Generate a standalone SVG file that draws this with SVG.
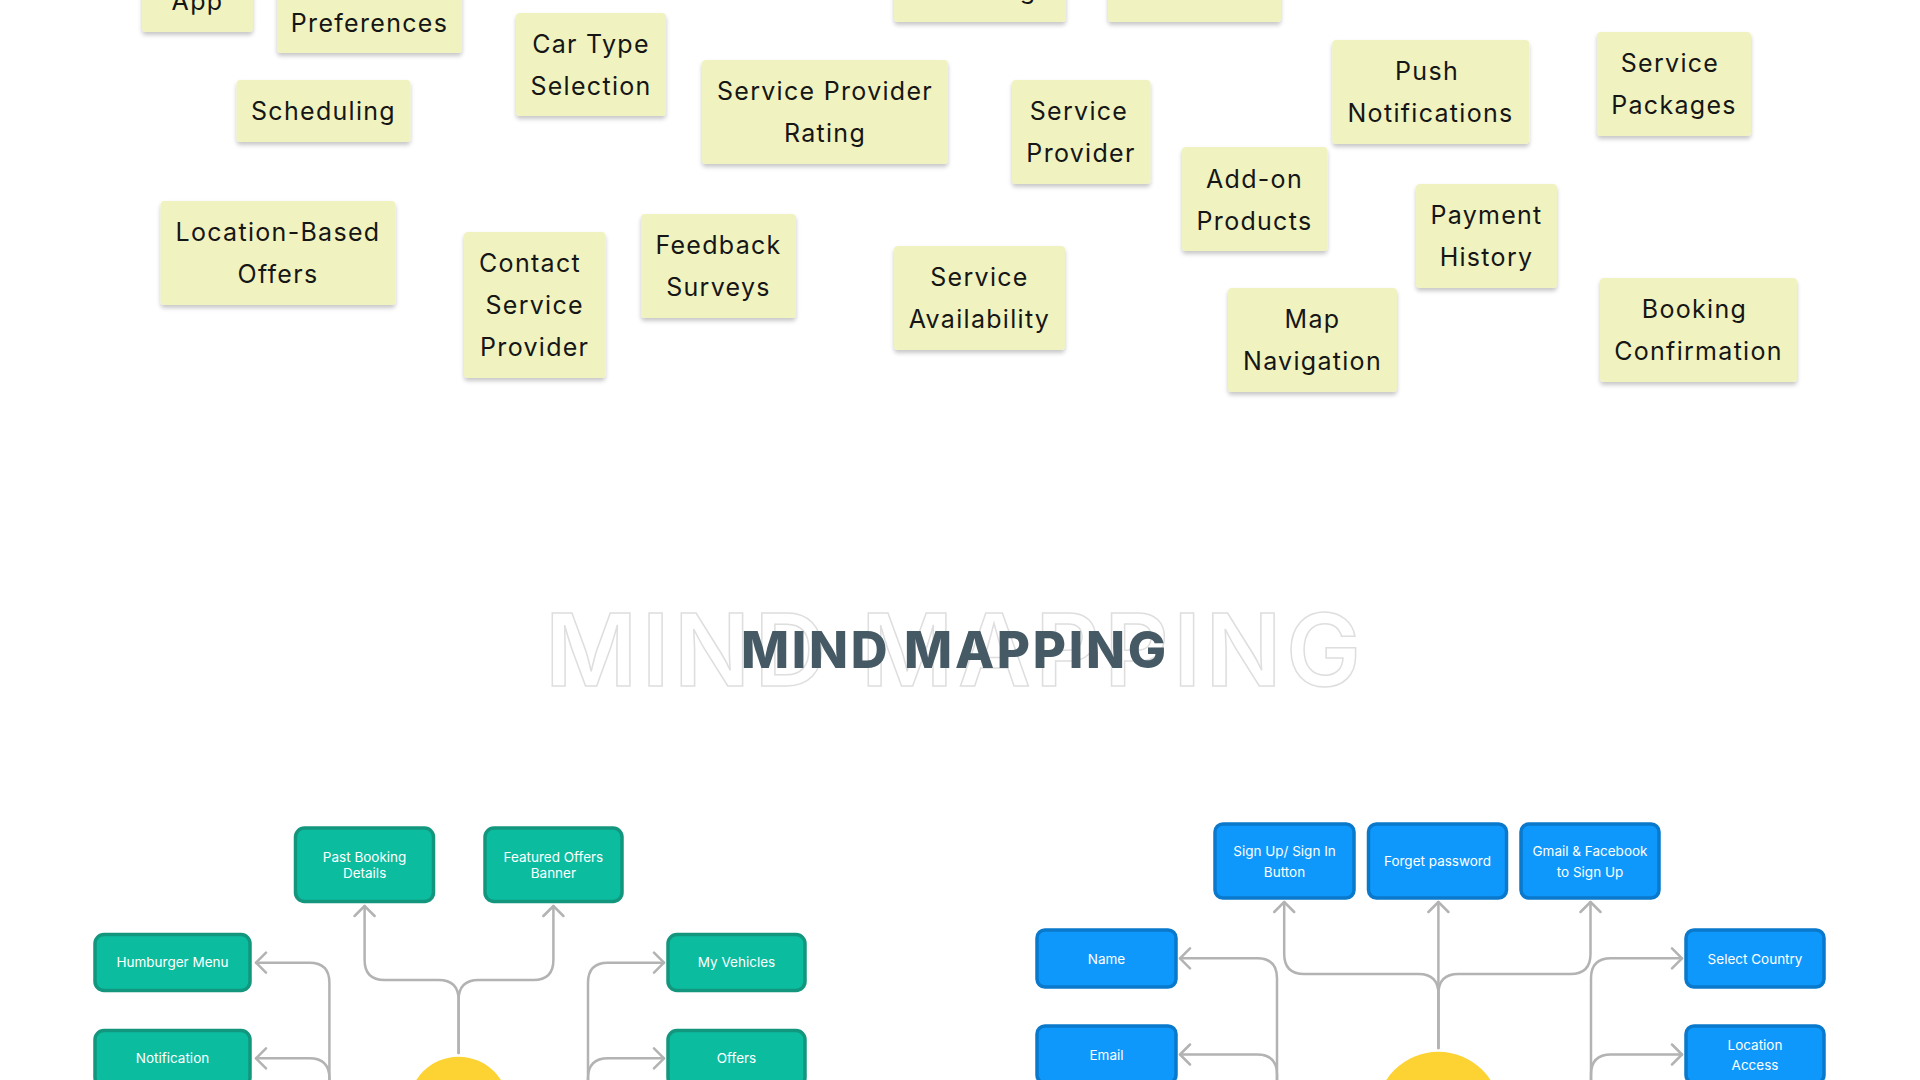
<svg xmlns="http://www.w3.org/2000/svg" width="1920" height="1080" viewBox="0 0 1920 1080">
  <style>
    .note rect { fill: #f0f3bf; filter: url(#noteShadow); }
    .note text { font-family: Inter, "Noto Sans", "Liberation Sans", sans-serif; font-size: 25px; letter-spacing: 1.3px; fill: #161616; text-anchor: middle; }
    .teal rect { fill: #0cbc9f; stroke: #12967e; stroke-width: 3.5; }
    .blue rect { fill: #0f98fb; stroke: #0a79cc; stroke-width: 3.5; }
    .teal text, .blue text { font-family: Inter, "Noto Sans", "Liberation Sans", sans-serif; font-size: 13.5px; fill: #ffffff; text-anchor: middle; }
    .hub { fill: #fdd233; }
    .links path { fill: none; stroke: #b3b3b3; stroke-width: 2.5; stroke-linecap: round; stroke-linejoin: round; }
    .title { font-family: Inter, "Noto Sans", "Liberation Sans", sans-serif; }
  </style>
  <defs>
    <filter id="noteShadow" x="-10%" y="-10%" width="120%" height="130%">
      <feDropShadow dx="0" dy="3" stdDeviation="2" flood-color="#000000" flood-opacity="0.22"/>
    </filter>
    <marker id="chev" markerUnits="userSpaceOnUse" markerWidth="24" markerHeight="24" viewBox="-12 -12 24 24" refX="0" refY="0" orient="auto">
      <path d="M -10 -10 L 0 0 L -10 10" fill="none" stroke="#b3b3b3" stroke-width="2.5" stroke-linecap="round" stroke-linejoin="round"/>
    </marker>
  </defs>

  <rect width="1920" height="1080" fill="#ffffff"/>

  <!-- sticky notes -->
  <g id="note-app" class="note"><rect x="142" y="-40" width="111" height="72" rx="4"/><text x="197.5" y="10">App</text></g>
  <g id="note-preferences" class="note"><rect x="277" y="-50" width="185" height="103" rx="4"/><text x="369.5" y="31.5">Preferences</text></g>
  <g id="note-car-type" class="note"><rect x="516" y="13" width="150" height="103" rx="4"/><text x="591" y="52.5">Car Type</text><text x="591" y="94.5">Selection</text></g>
  <g id="note-scheduling" class="note"><rect x="236.5" y="80" width="174" height="62" rx="4"/><text x="323.5" y="119.5">Scheduling</text></g>
  <g id="note-provider-rating" class="note"><rect x="702" y="60" width="246" height="104" rx="4"/><text x="825" y="100">Service Provider</text><text x="825" y="142">Rating</text></g>
  <g id="note-location-offers" class="note"><rect x="160.5" y="201" width="235" height="104" rx="4"/><text x="278" y="241">Location-Based</text><text x="278" y="283">Offers</text></g>
  <g id="note-contact" class="note"><rect x="464" y="232" width="141.5" height="146" rx="4"/><text x="530" y="272">Contact</text><text x="534.7" y="314">Service</text><text x="534.7" y="356">Provider</text></g>
  <g id="note-feedback" class="note"><rect x="641" y="214" width="155" height="104" rx="4"/><text x="718.5" y="253.5">Feedback</text><text x="718.5" y="295.5">Surveys</text></g>
  <g id="note-tracking" class="note"><rect x="894" y="-80" width="172" height="102" rx="4"/><text x="980" y="-1.5">Tracking</text></g>
  <g id="note-reminders" class="note"><rect x="1108" y="-80" width="173" height="102" rx="4"/><text x="1190" y="-1.5">Reminders</text></g>
  <g id="note-availability" class="note"><rect x="894" y="246" width="171" height="104" rx="4"/><text x="979.5" y="286">Service</text><text x="979.5" y="328">Availability</text></g>
  <g id="note-provider" class="note"><rect x="1012" y="80" width="138.5" height="104" rx="4"/><text x="1079" y="119.5">Service</text><text x="1081" y="161.5">Provider</text></g>
  <g id="note-addon" class="note"><rect x="1182" y="147" width="145.5" height="104" rx="4"/><text x="1254.5" y="187.5">Add-on</text><text x="1254.5" y="229.5">Products</text></g>
  <g id="note-push" class="note"><rect x="1332.3" y="40" width="197" height="104" rx="4"/><text x="1427" y="80">Push</text><text x="1430.5" y="122">Notifications</text></g>
  <g id="note-packages" class="note"><rect x="1597" y="32" width="154" height="104" rx="4"/><text x="1670" y="72">Service</text><text x="1674" y="114">Packages</text></g>
  <g id="note-payment" class="note"><rect x="1416" y="184" width="141" height="104" rx="4"/><text x="1486.5" y="223.5">Payment</text><text x="1486.5" y="265.5">History</text></g>
  <g id="note-map" class="note"><rect x="1228" y="288" width="169" height="104" rx="4"/><text x="1312.5" y="328.3">Map</text><text x="1312.5" y="370.3">Navigation</text></g>
  <g id="note-booking" class="note"><rect x="1600" y="278" width="197" height="104" rx="4"/><text x="1694.5" y="318.3">Booking</text><text x="1698.5" y="360.3">Confirmation</text></g>

  <!-- section heading -->
  <g id="heading" class="title">
    <text x="545" y="685.7" font-size="100" font-weight="600" fill="none" stroke="#dedede" stroke-width="1.5" textLength="816" lengthAdjust="spacing">MIND MAPPING</text>
    <text x="741" y="668.3" font-size="51" font-weight="800" fill="#455a64" textLength="425" lengthAdjust="spacing">MIND MAPPING</text>
  </g>

  <!-- connectors -->
  <g id="connectors" class="links">
    <path d="M 458.6 1053 V 1000 Q 458.6 980 438.6 980 H 384.6 Q 364.6 980 364.6 960 V 906" marker-end="url(#chev)"/>
    <path d="M 458.6 1053 V 1000 Q 458.6 980 478.6 980 H 533.4 Q 553.4 980 553.4 960 V 906" marker-end="url(#chev)"/>
    <path d="M 329.4 1095 V 982.7 Q 329.4 962.7 309.4 962.7 H 256" marker-end="url(#chev)"/>
    <path d="M 329.4 1095 V 1078.3 Q 329.4 1058.3 309.4 1058.3 H 256" marker-end="url(#chev)"/>
    <path d="M 588 1095 V 982.7 Q 588 962.7 608 962.7 H 664" marker-end="url(#chev)"/>
    <path d="M 588 1095 V 1078.3 Q 588 1058.3 608 1058.3 H 664" marker-end="url(#chev)"/>

    <path d="M 1438.4 1048 V 902" marker-end="url(#chev)"/>
    <path d="M 1438.4 1048 V 994 Q 1438.4 974 1418.4 974 H 1304.2 Q 1284.2 974 1284.2 954 V 902" marker-end="url(#chev)"/>
    <path d="M 1438.4 1048 V 994 Q 1438.4 974 1458.4 974 H 1570.5 Q 1590.5 974 1590.5 954 V 902" marker-end="url(#chev)"/>
    <path d="M 1277 1095 V 978.3 Q 1277 958.3 1257 958.3 H 1180" marker-end="url(#chev)"/>
    <path d="M 1277 1095 V 1074.5 Q 1277 1054.5 1257 1054.5 H 1180" marker-end="url(#chev)"/>
    <path d="M 1591 1095 V 978.3 Q 1591 958.3 1611 958.3 H 1682" marker-end="url(#chev)"/>
    <path d="M 1591 1095 V 1074.5 Q 1591 1054.5 1611 1054.5 H 1682" marker-end="url(#chev)"/>
  </g>

  <!-- home screen map -->
  <circle id="hub-home" class="hub" cx="458.6" cy="1106.7" r="50"/>
  <g id="past-booking" class="teal"><rect x="295.5" y="828" width="138" height="73.5" rx="9"/><text x="364.6" y="861.5">Past Booking</text><text x="364.6" y="878">Details</text></g>
  <g id="featured-offers" class="teal"><rect x="485" y="828" width="137" height="73.5" rx="9"/><text x="553.4" y="861.5">Featured Offers</text><text x="553.4" y="878">Banner</text></g>
  <g id="hamburger-menu" class="teal"><rect x="95" y="934.5" width="155" height="56" rx="9"/><text x="172.5" y="967">Humburger Menu</text></g>
  <g id="notification" class="teal"><rect x="95" y="1030.5" width="155" height="56" rx="9"/><text x="172.5" y="1062.5">Notification</text></g>
  <g id="my-vehicles" class="teal"><rect x="668" y="934.5" width="137" height="56" rx="9"/><text x="736.5" y="967">My Vehicles</text></g>
  <g id="offers" class="teal"><rect x="668" y="1030.5" width="137" height="56" rx="9"/><text x="736.5" y="1062.5">Offers</text></g>

  <!-- sign up map -->
  <circle id="hub-signup" class="hub" cx="1438.4" cy="1113.7" r="62"/>
  <g id="signup-button" class="blue"><rect x="1215" y="824" width="139" height="74" rx="8"/><text x="1284.5" y="855.5">Sign Up/ Sign In</text><text x="1284.5" y="876.5">Button</text></g>
  <g id="forget-password" class="blue"><rect x="1368.5" y="824" width="138" height="74" rx="8"/><text x="1437.5" y="866">Forget password</text></g>
  <g id="social-signup" class="blue"><rect x="1521" y="824" width="138" height="74" rx="8"/><text x="1590" y="855.5">Gmail &amp; Facebook</text><text x="1590" y="876.5">to Sign Up</text></g>
  <g id="name" class="blue"><rect x="1037" y="930" width="139" height="57" rx="8"/><text x="1106.5" y="964">Name</text></g>
  <g id="email" class="blue"><rect x="1037" y="1026" width="139" height="57" rx="8"/><text x="1106.5" y="1059.5">Email</text></g>
  <g id="select-country" class="blue"><rect x="1686" y="930" width="138" height="57" rx="8"/><text x="1755" y="964">Select Country</text></g>
  <g id="location-access" class="blue"><rect x="1686" y="1026" width="138" height="57" rx="8"/><text x="1755" y="1049.5">Location</text><text x="1755" y="1070">Access</text></g>
</svg>
